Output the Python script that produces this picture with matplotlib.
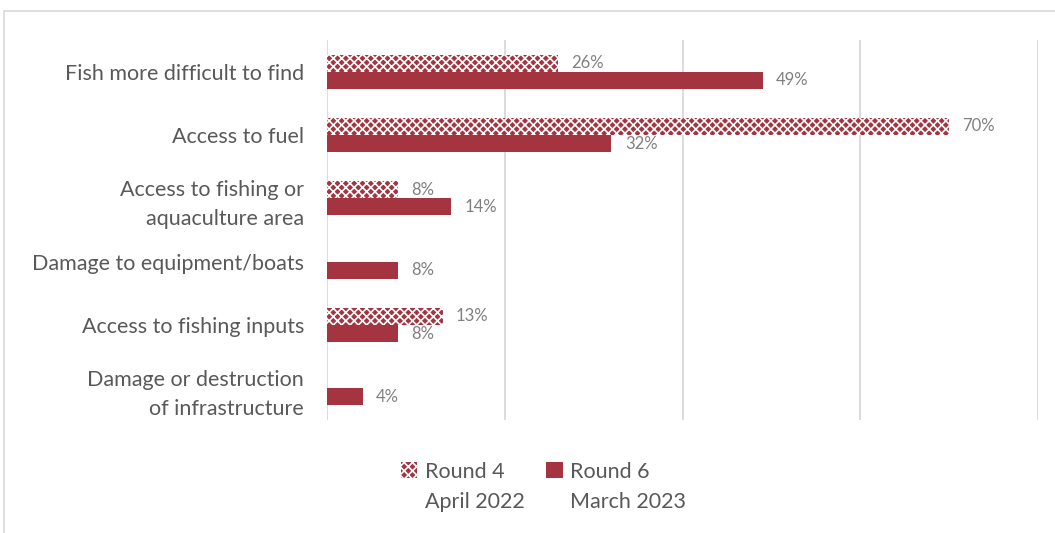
import numpy as np
import matplotlib.pyplot as plt
from matplotlib.patches import Rectangle, Patch

plt.rcParams["font.family"] = ["Lato", "DejaVu Sans"]
plt.rcParams["hatch.linewidth"] = 1.2

categories = [
    "Fish more difficult to find",
    "Access to fuel",
    "Access to fishing or\naquaculture area",
    "Damage to equipment/boats",
    "Access to fishing inputs",
    "Damage or destruction\nof infrastructure",
]
round4 = [26, 70, 8, np.nan, 13, np.nan]
round6 = [49, 32, 14, 8, 8, 4]
series_names = ["Round 4", "Round 6"]
series_dates = ["April 2022", "March 2023"]

bar_color = "#a4343f"
text_color = "#595959"
label_color = "#808080"

fig = plt.figure(figsize=(10.55, 5.33), dpi=100)
ax = fig.add_axes([0.31, 0.212, 0.674, 0.713])

y = np.arange(len(categories))
h = 0.27

b4 = ax.barh(y - h / 2, round4, height=h, color=bar_color,
             edgecolor="white", hatch="xxxx", linewidth=0)
b6 = ax.barh(y + h / 2, round6, height=h, color=bar_color, linewidth=0)

for bars, vals in [(b4, round4), (b6, round6)]:
    for bar, v in zip(bars, vals):
        if np.isnan(v):
            continue
        ax.text(v + 1.5, bar.get_y() + bar.get_height() / 2, f"{v:.0f}%",
                va="center", ha="left", fontsize=12, color=label_color)

ax.set_xlim(0, 80)
ax.set_ylim(len(categories) - 0.5, -0.5)
ax.set_xticks([0, 20, 40, 60, 80])
ax.set_xticklabels([])
ax.set_yticks(y)
ax.set_yticklabels(categories, fontsize=15.5, color=text_color, linespacing=1.55)
ax.tick_params(axis="both", length=0, pad=16.5)
ax.grid(axis="x", color="#d9d9d9", linewidth=1.3)
ax.set_axisbelow(True)
for s in ax.spines.values():
    s.set_visible(False)

handles = [
    Patch(facecolor=bar_color, edgecolor="white", hatch="xxxx", linewidth=0),
    Patch(facecolor=bar_color, linewidth=0),
]
leg = fig.legend(handles, series_names,
                 loc="center", bbox_to_anchor=(0.498, 0.115), ncol=2,
                 frameon=False, fontsize=15.5, handlelength=0.75,
                 handleheight=0.75, handletextpad=0.35, columnspacing=1.95,
                 borderpad=0, borderaxespad=0)
for t in leg.get_texts():
    t.set_color(text_color)

# second line of each legend label, placed under the first
fig.canvas.draw()
inv = fig.transFigure.inverted()
for t, d in zip(leg.get_texts(), series_dates):
    bb = t.get_window_extent()
    x0, y0 = inv.transform((bb.x0, bb.y0))
    fig.text(x0, y0 - 0.02, d, ha="left", va="top", fontsize=15.5,
             color=text_color)

# light frame around the chart area
fig.patches.append(Rectangle((0.004, -0.05), 1.1, 1.029, transform=fig.transFigure,
                             fill=False, edgecolor="#d9d9d9", linewidth=1.2))

fig.savefig("out.png", dpi=100)
